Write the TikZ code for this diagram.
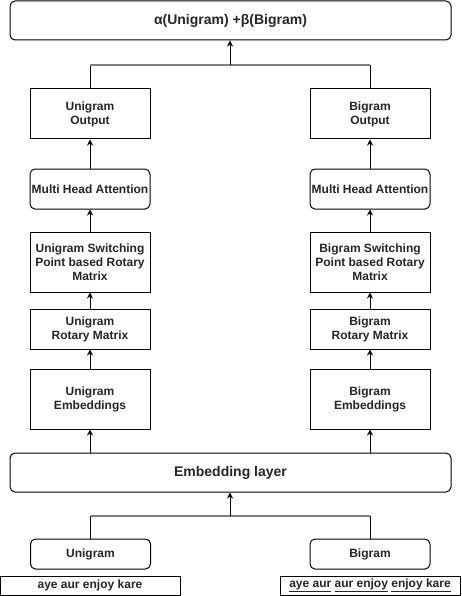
\documentclass[tikz,border=0pt]{standalone}
\usepackage{fontspec}
\setmainfont{Liberation Sans}
\usetikzlibrary{arrows.meta}
\begin{document}
\begin{tikzpicture}[x=1pt,y=-1pt,
  base/.style={draw=black, line width=1pt, align=center, inner sep=1pt,
    font=\fontsize{12}{14}\selectfont\bfseries, text=black!85},
  sq/.style={base, minimum width=120pt},
  rnd/.style={base, rounded corners=5pt, minimum width=120pt},
  wide/.style={base, rounded corners=5pt, minimum width=441pt, minimum height=39pt,
    font=\fontsize{14}{16}\selectfont\bfseries},
  txt/.style={base, minimum width=180pt, minimum height=19pt, inner sep=0pt},
  arr/.style={draw=black, line width=1pt, -{Stealth[length=6pt,width=6pt]}},
  ln/.style={draw=black, line width=1pt},
  gln/.style={draw=black!50, line width=1.6pt}]
\useasboundingbox (0,0) rectangle (461,596);
\fill[white] (0,0) rectangle (461,596);

\node[wide] (top) at (230.5,20.5) {α(Unigram) +β(Bigram)};

\node[sq, minimum height=50pt] (uout) at (90,114) {Unigram\\Output};
\node[sq, minimum height=50pt] (bout) at (370,114) {Bigram\\Output};

\node[rnd, minimum height=40pt] (umha) at (90,189) {Multi Head Attention};
\node[rnd, minimum height=40pt] (bmha) at (370,189) {Multi Head Attention};

\node[sq, minimum height=60pt] (usw) at (90,262) {Unigram Switching\\Point based Rotary\\Matrix};
\node[sq, minimum height=60pt] (bsw) at (370,262) {Bigram Switching\\Point based Rotary\\Matrix};

\node[sq, minimum height=40pt] (urot) at (90,329) {Unigram\\Rotary Matrix};
\node[sq, minimum height=40pt] (brot) at (370,329) {Bigram\\Rotary Matrix};

\node[sq, minimum height=60pt] (uemb) at (90,399) {Unigram\\Embeddings};
\node[sq, minimum height=60pt] (bemb) at (370,399) {Bigram\\Embeddings};

\node[wide] (emb) at (230.5,472.5) {Embedding layer};

\node[rnd, minimum height=30pt] (ubot) at (90.5,554) {Unigram};
\node[rnd, minimum height=30pt] (bbot) at (370,554) {Bigram};

\node[txt] (utxt) at (90,585.5) {aye aur enjoy kare};
\node[txt] (btxt) at (370,585.5) {\underline{aye aur} \underline{aur enjoy} \underline{enjoy kare}};

\coordinate (jt) at (230,65);
\coordinate (jb) at (230,516);

% top merge
\draw[ln] (uout.north) -- (uout.north |- jt);
\draw[ln] (bout.north) -- (bout.north |- jt);
\draw[gln] (uout.north |- jt) -- (bout.north |- jt);
\draw[arr] (jt) -- (jt |- top.south);

% left column
\draw[arr] (umha) -- (uout);
\draw[arr] (usw) -- (umha);
\draw[arr] (urot) -- (usw);
\draw[arr] (uemb) -- (urot);
\draw[arr] (uemb |- emb.north) -- (uemb);

% right column
\draw[arr] (bmha) -- (bout);
\draw[arr] (bsw) -- (bmha);
\draw[arr] (brot) -- (bsw);
\draw[arr] (bemb) -- (brot);
\draw[arr] (bemb |- emb.north) -- (bemb);

% bottom merge
\draw[ln] (ubot.north) -- (ubot.north |- jb);
\draw[ln] (bbot.north) -- (bbot.north |- jb);
\draw[gln] (ubot.north |- jb) -- (bbot.north |- jb);
\draw[arr] (jb) -- (jb |- emb.south);
\end{tikzpicture}
\end{document}
